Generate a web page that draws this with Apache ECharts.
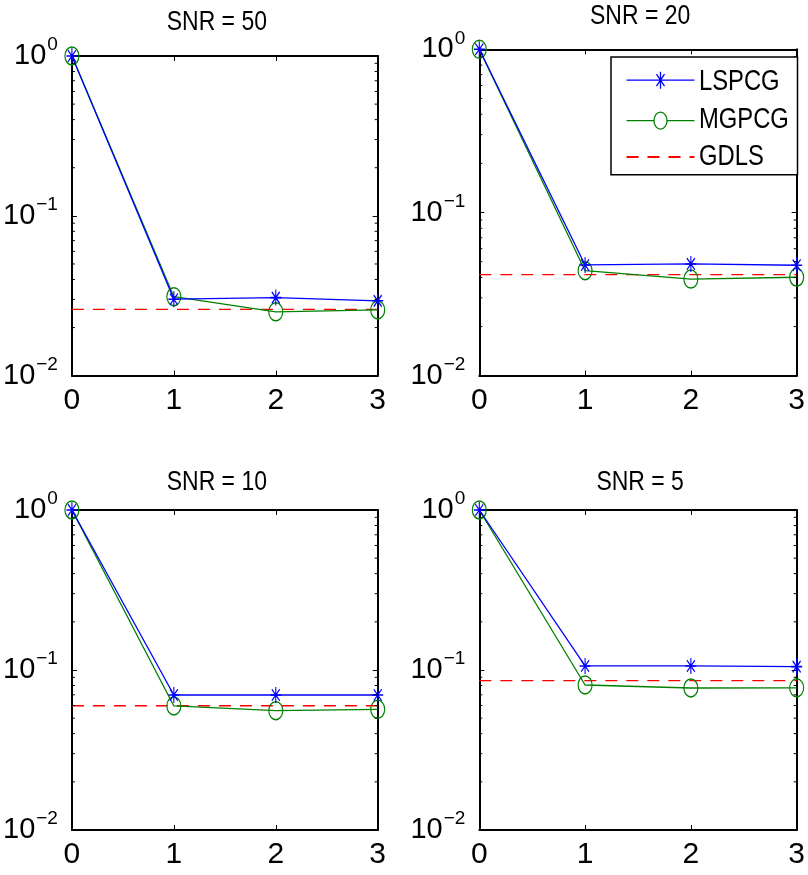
<!DOCTYPE html>
<html>
<head>
<meta charset="utf-8">
<script src="https://cdn.jsdelivr.net/npm/echarts@6/dist/echarts.min.js"></script>
<style>
  html, body { margin: 0; padding: 0; background: #fff; }
  #chart { width: 808px; height: 875px; }
</style>
</head>
<body>
<div id="chart"></div>
<script>
// Relative residual per outer iteration, one panel per noise level
const iterations = [0, 1, 2, 3];
const panelTitles = ['SNR = 50', 'SNR = 20', 'SNR = 10', 'SNR = 5'];
const seriesNames = ['LSPCG', 'MGPCG', 'GDLS'];

const lspcg50 = [1, 0.0301, 0.0308, 0.0294];
const mgpcg50 = [1, 0.0312, 0.0251, 0.0258];
const gdls50  = [0.0260, 0.0260, 0.0260, 0.0260];

const lspcg20 = [1, 0.0477, 0.0484, 0.0475];
const mgpcg20 = [1, 0.0440, 0.0391, 0.0401];
const gdls20  = [0.0416, 0.0416, 0.0416, 0.0416];

const lspcg10 = [1, 0.0698, 0.0698, 0.0698];
const mgpcg10 = [1, 0.0596, 0.0557, 0.0568];
const gdls10  = [0.0598, 0.0598, 0.0598, 0.0598];

const lspcg5 = [1, 0.106, 0.106, 0.105];
const mgpcg5 = [1, 0.0806, 0.0772, 0.0774];
const gdls5  = [0.0858, 0.0858, 0.0858, 0.0858];

const yMinorTicks = [0.02, 0.03, 0.04, 0.05, 0.06, 0.07, 0.08, 0.09,
                     0.2, 0.3, 0.4, 0.5, 0.6, 0.7, 0.8, 0.9];

const panelData = [
  [lspcg50, mgpcg50, gdls50],
  [lspcg20, mgpcg20, gdls20],
  [lspcg10, mgpcg10, gdls10],
  [lspcg5,  mgpcg5,  gdls5]
];

const FONT = '"Liberation Sans", Arial, sans-serif';
const NARROW = 0.82;   // horizontal squeeze for the narrow Helvetica look
const BLUE = '#0000ff', GREEN = '#008000', RED = '#ff0000';
const DASH = [12, 9];
const ASTERISK = 'path://M0,-1L0,1M-1,0L1,0M-0.72,-0.72L0.72,0.72M-0.72,0.72L0.72,-0.72';
const ELLIPSE = 'path://M0,-1A1,1,0,1,1,0,1A1,1,0,1,1,0,-1Z';
// legend keys: line sample with the marker in the middle (68 x 17 box)
const KEY_ASTERISK = 'path://M0,8.5L68,8.5M34,0L34,17M28.5,8.5L39.5,8.5M30,2.5L38,14.5M30,14.5L38,2.5';
const KEY_ELLIPSE = 'path://M0,8.5L27.5,8.5M40.5,8.5L68,8.5M34,0A6.5,8.5,0,1,1,34,17A6.5,8.5,0,1,1,34,0Z';

const grids = [
  { left: 56,    top: 56,   width: 321.7, height: 319.7 },
  { left: 479.3, top: 49.3, width: 321.7, height: 326.4 },
  { left: 56,    top: 510,  width: 321.7, height: 320 },
  { left: 479.3, top: 510,  width: 321.7, height: 320 }
];
const titleY = [22, 16, 482.5, 482.5];

// legend box geometry (top-right panel)
const LEGEND_LEFT = 611, LEGEND_TOP = 57;
const LEGEND_ROW_Y = [81.7, 119.5, 156.7];
const LEGEND_TEXT_X = 699;

const axisLineStyle = { color: '#000', width: 2 };

function powerLabel(v) {
  const e = Math.round(Math.log10(v));
  const s = e < 0 ? '\u2212' + (-e) : String(e);
  return '{b|10}{s|' + s + '}';
}

const xAxes = [], yAxes = [], series = [];
grids.forEach((g, i) => {
  // bottom and top x axes (top one only carries inward ticks)
  ['bottom', 'top'].forEach(pos => {
    xAxes.push({
      type: 'value', gridIndex: i, position: pos, min: 0, max: 3, interval: 1,
      axisLine: { show: true, onZero: false, lineStyle: axisLineStyle },
      axisTick: { show: true, inside: true, length: 5, lineStyle: { color: '#000', width: 1 } },
      axisLabel: pos === 'bottom' ? {
        show: true, margin: 10, color: '#000', fontFamily: FONT, fontSize: 30,
        formatter: v => String(Math.round(v))
      } : { show: false },
      splitLine: { show: false }
    });
  });
  ['left', 'right'].forEach(pos => {
    yAxes.push({
      type: 'log', logBase: 10, gridIndex: i, position: pos, min: 0.01, max: 1,
      axisLine: { show: true, onZero: false, lineStyle: axisLineStyle },
      axisTick: { show: true, inside: true, length: 5, lineStyle: { color: '#000', width: 1 } },
      axisLabel: pos === 'left' ? {
        show: true, margin: 14, color: '#000', fontFamily: FONT,
        formatter: powerLabel,
        rich: {
          b: { fontSize: 29, lineHeight: 29, fontFamily: FONT, color: '#000', verticalAlign: 'middle' },
          s: { fontSize: 19, lineHeight: 19, fontFamily: FONT, color: '#000', verticalAlign: 'middle', padding: [0, 0, 22, 1] }
        }
      } : { show: false },
      splitLine: { show: false }
    });
  });

  const xi = i * 2, yi = i * 2;
  const [ls, mg, gd] = panelData[i];
  const pts = arr => iterations.map((x, k) => [x, arr[k]]);

  series.push({
    name: seriesNames[0], type: 'line', xAxisIndex: xi, yAxisIndex: yi,
    data: pts(ls), clip: false, z: 4,
    lineStyle: { color: BLUE, width: 1.3 },
    symbol: ASTERISK, symbolSize: [11, 16], showSymbol: true,
    itemStyle: { color: 'none', borderColor: BLUE, borderWidth: 1.3 }
  });
  series.push({
    name: seriesNames[1], type: 'line', xAxisIndex: xi, yAxisIndex: yi,
    data: pts(mg), clip: false, z: 3,
    lineStyle: { color: GREEN, width: 1.3 },
    symbol: ELLIPSE, symbolSize: [14, 18], showSymbol: true,
    itemStyle: { color: 'none', borderColor: GREEN, borderWidth: 1.3 }
  });
  series.push({
    name: seriesNames[2], type: 'line', xAxisIndex: xi, yAxisIndex: yi,
    data: pts(gd), clip: false, z: 2,
    lineStyle: { color: RED, width: 1.3, type: DASH },
    symbol: 'none', showSymbol: false,
    itemStyle: { color: RED }
  });
  // minor log ticks on both vertical edges
  series.push({
    type: 'custom', xAxisIndex: xi, yAxisIndex: yi, silent: true, z: 5,
    data: yMinorTicks.map(v => [0, v]),
    renderItem: (params, api) => {
      const y = api.coord([0, api.value(1)])[1];
      const cs = params.coordSys;
      return {
        type: 'group',
        children: [
          { type: 'line', shape: { x1: cs.x, y1: y, x2: cs.x + 3, y2: y }, style: { stroke: '#000', lineWidth: 1 } },
          { type: 'line', shape: { x1: cs.x + cs.width - 3, y1: y, x2: cs.x + cs.width, y2: y }, style: { stroke: '#000', lineWidth: 1 } }
        ]
      };
    }
  });
});

const graphics = grids.map((g, i) => ({
  type: 'text', x: g.left + g.width / 2, y: titleY[i], z: 10, scaleX: NARROW,
  style: { text: panelTitles[i], fontFamily: FONT, fontSize: 28, fill: '#000', align: 'center', verticalAlign: 'middle' }
}));
// legend labels, drawn in the same narrow face as the titles
seriesNames.forEach((name, k) => {
  graphics.push({
    type: 'text', x: LEGEND_TEXT_X, y: LEGEND_ROW_Y[k], z: 20, scaleX: NARROW,
    style: { text: name, fontFamily: FONT, fontSize: 29, fill: '#000', align: 'left', verticalAlign: 'middle' }
  });
});

const chart = echarts.init(document.getElementById('chart'), null, { renderer: 'canvas' });
chart.setOption({
  backgroundColor: '#fff',
  animation: false,
  grid: grids.map(g => Object.assign({ containLabel: false }, g)),
  xAxis: xAxes,
  yAxis: yAxes,
  legend: {
    data: [
      { name: 'LSPCG', icon: KEY_ASTERISK, itemStyle: { color: 'none', borderColor: BLUE, borderWidth: 1.3 } },
      { name: 'MGPCG', icon: KEY_ELLIPSE, itemStyle: { color: 'none', borderColor: GREEN, borderWidth: 1.3 } },
      { name: 'GDLS', itemStyle: { color: 'rgba(0,0,0,0)', borderWidth: 0, opacity: 0 } }
    ],
    orient: 'vertical', left: LEGEND_LEFT, top: LEGEND_TOP, z: 10,
    backgroundColor: '#fff', borderColor: '#000', borderWidth: 1.5,
    padding: [12.2, 98, 11, 13], itemWidth: 68, itemHeight: 17, itemGap: 18.5,
    formatter: () => '',
    textStyle: { fontFamily: FONT, fontSize: 10, lineHeight: 10, color: '#000' },
    selectedMode: false
  },
  graphic: graphics,
  series: series
});
</script>
</body>
</html>
